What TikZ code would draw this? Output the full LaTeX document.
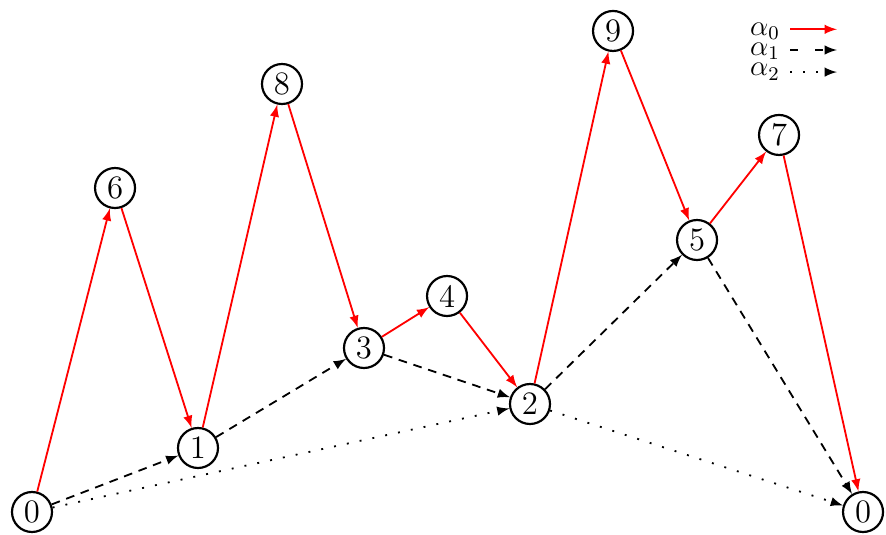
\documentclass[tikz,border=0pt]{standalone}
\usepackage{amsmath}
\usepackage{amssymb}
\usepackage{tikz}

\begin{document}
\begin{tikzpicture}[line width=0.75pt, font=\fontsize{13.5}{16}\selectfont, vert/.style={circle,draw,line width=0.9pt,minimum size=0.58cm,inner sep=0pt}, dashline/.style={dash pattern=on 3.6pt off 2.8pt}, dotline/.style={dash pattern=on 0.8pt off 4.6pt}, key/.style={inner sep=0pt,font=\fontsize{12}{14}\selectfont}]
	\useasboundingbox (0,0) rectangle (12.847,7.743);
	\node [vert] (v0) at (0.464,0.319) {0};
	\node [vert] (v1) at (2.871,1.247) {1};
	\node [vert] (v6) at (1.668,5.017) {6};
	\node [vert] (v8) at (4.089,6.525) {8};
	\node [vert] (v3) at (5.278,2.697) {3};
	\node [vert] (v4) at (6.482,3.451) {4};
	\node [vert] (v2) at (7.685,1.885) {2};
	\node [vert] (v9) at (8.889,7.294) {9};
	\node [vert] (v5) at (10.107,4.263) {5};
	\node [vert] (v7) at (11.296,5.786) {7};
	\node [vert] (v10) at (12.514,0.319) {0};
	% alpha_0
	\draw [-latex,red] (v0) edge (v6);
	\draw [-latex,red] (v6) edge (v1);
	\draw [-latex,red] (v1) edge (v8);
	\draw [-latex,red] (v8) edge (v3);
	\draw [-latex,red] (v3) edge (v4);
	\draw [-latex,red] (v4) edge (v2);
	\draw [-latex,red] (v2) edge (v9);
	\draw [-latex,red] (v9) edge (v5);
	\draw [-latex,red] (v5) edge (v7);
	\draw [-latex,red] (v7) edge (v10);
	% alpha_1
	\draw [-latex,dashline] (v0) edge (v1);
	\draw [-latex,dashline] (v1) edge (v3);
	\draw [-latex,dashline] (v3) edge (v2);
	\draw [-latex,dashline] (v2) edge (v5);
	\draw [-latex,dashline] (v5) edge (v10);
	% alpha_2
	\draw [-latex,dotline] (v0) edge (v2);
	\draw [-latex,dotline] (v2) edge (v10);
	% legend
	\node [key] (l0) at (11.093,7.288) {$\alpha_0$};
	\node [key] (l1) at (11.093,7.003) {$\alpha_1$};
	\node [key] (l2) at (11.093,6.703) {$\alpha_2$};
	\coordinate (a0) at (11.455,7.318);
	\coordinate (b0) at (12.136,7.318);
	\coordinate (a1) at (11.455,7.018);
	\coordinate (b1) at (12.136,7.018);
	\coordinate (a2) at (11.455,6.698);
	\coordinate (b2) at (12.136,6.698);
	\draw [-latex,red] (a0) -- (b0);
	\draw [-latex,dash pattern=on 3.4pt off 7pt] (a1) -- (b1);
	\draw [-latex,dotline] (a2) -- (b2);
\end{tikzpicture}
\end{document}
